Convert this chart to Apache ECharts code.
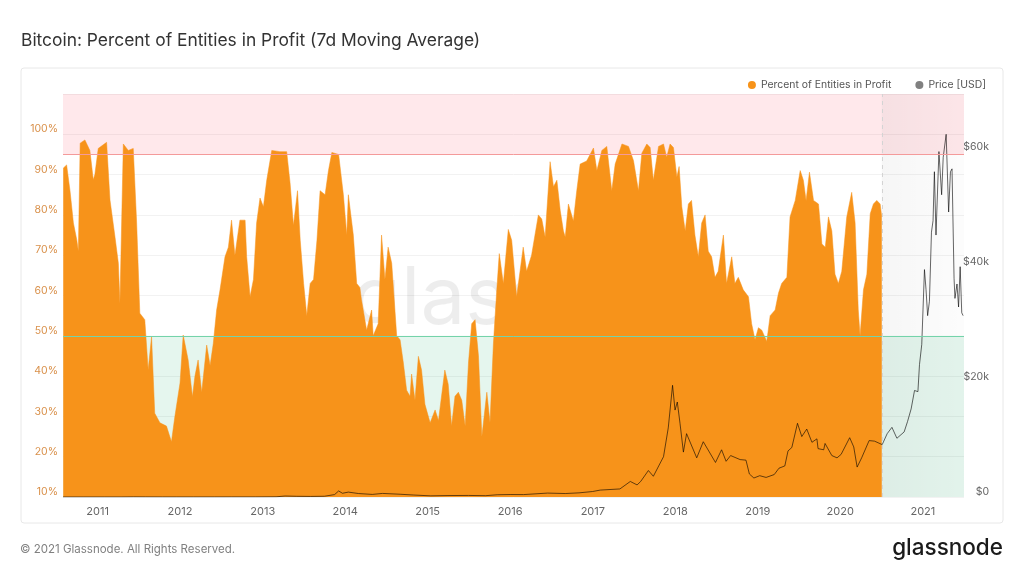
<!DOCTYPE html>
<html><head><meta charset="utf-8">
<script src="https://cdn.jsdelivr.net/npm/echarts@6/dist/echarts.min.js"></script>
<style>html,body{margin:0;padding:0;background:#fff}#c{width:1024px;height:576px}</style>
</head><body><div id="c"></div><script>
const pctDates = ['2010-08-02','2010-08-17','2010-09-01','2010-09-16','2010-10-01','2010-10-08','2010-10-16','2010-11-06','2010-11-28','2010-12-13','2010-12-20',
'2011-01-04','2011-02-10','2011-02-25','2011-03-19','2011-04-03','2011-04-10','2011-04-25','2011-05-17','2011-06-08','2011-06-23','2011-07-07','2011-07-29','2011-08-13','2011-08-28','2011-09-11','2011-10-04','2011-11-02','2011-11-24','2011-12-09',
'2012-01-01','2012-01-15','2012-02-06','2012-02-25','2012-03-07','2012-03-21','2012-04-06','2012-04-28','2012-05-13','2012-05-27','2012-06-11','2012-06-26','2012-07-18','2012-08-02','2012-08-16','2012-08-31','2012-09-22','2012-10-15','2012-10-22','2012-11-06','2012-11-21','2012-12-05','2012-12-20',
'2013-01-04','2013-01-19','2013-02-10','2013-03-18','2013-04-17','2013-05-02','2013-05-17','2013-06-04','2013-06-16','2013-07-01','2013-07-15','2013-07-30','2013-08-14','2013-08-29','2013-09-12','2013-10-04','2013-10-19','2013-11-03','2013-12-03','2013-12-24',
'2014-01-08','2014-01-15','2014-02-06','2014-02-21','2014-03-07','2014-03-14','2014-04-06','2014-04-28','2014-05-05','2014-05-27','2014-06-11','2014-06-26','2014-07-10','2014-07-26','2014-08-17','2014-09-01','2014-09-15','2014-09-30','2014-10-15','2014-10-22','2014-11-06','2014-11-21','2014-12-05','2014-12-20',
'2015-01-12','2015-02-03','2015-02-18','2015-03-18','2015-04-02','2015-04-17','2015-05-02','2015-05-17','2015-06-01','2015-06-16','2015-07-01','2015-07-15','2015-07-30','2015-08-14','2015-08-29','2015-09-20','2015-10-04','2015-10-19','2015-11-03','2015-11-14','2015-12-02','2015-12-24',
'2016-01-08','2016-01-30','2016-02-28','2016-03-14','2016-04-05','2016-05-05','2016-05-20','2016-06-04','2016-06-26','2016-07-11','2016-07-26','2016-08-10','2016-08-24','2016-09-01','2016-09-15','2016-10-07','2016-10-22','2016-11-06','2016-12-05',
'2017-01-04','2017-01-19','2017-02-10','2017-03-04','2017-03-26','2017-04-10','2017-05-10','2017-06-08','2017-06-30','2017-07-22','2017-08-06','2017-08-28','2017-09-12','2017-09-26','2017-10-19','2017-11-10','2017-11-24','2017-12-09','2017-12-24',
'2018-01-08','2018-01-18','2018-01-30','2018-02-14','2018-02-28','2018-03-14','2018-03-29','2018-04-13','2018-04-28','2018-05-13','2018-05-27','2018-06-11','2018-06-26','2018-07-10','2018-08-02','2018-08-16','2018-09-08','2018-09-22','2018-10-07','2018-10-29','2018-11-21','2018-12-05','2018-12-20',
'2019-01-04','2019-01-19','2019-02-10','2019-02-25','2019-03-19','2019-04-03','2019-04-17','2019-05-10','2019-05-24','2019-06-16','2019-07-08','2019-07-22','2019-08-03','2019-08-18','2019-09-05','2019-09-27','2019-10-12','2019-10-27','2019-11-10','2019-11-25','2019-12-09','2019-12-24',
'2020-01-08','2020-01-30','2020-02-21','2020-03-07','2020-03-21','2020-03-29','2020-04-13','2020-04-28','2020-05-13','2020-05-27','2020-06-11','2020-06-26','2020-07-03'];
const pctValues = [91.6,92.4,86,78,73.8,71,97.8,98.6,96,88.7,90,
96.5,98,83.7,74.6,68,58,97.6,96,96.5,78,55.6,54,41.5,49.8,30.8,28.4,27.6,23.7,29.9,
38.3,50.2,44,34.9,40,44,36,47.7,42.6,48,56.4,61.4,69.6,72,78.7,70,78.7,78.7,69.6,59.7,64,78,84.2,
82,88.7,96,95.7,95.7,88,77.4,86,73.7,63,55,63,64,73.7,86,85,91,95.5,95,85,
75,85,75,63,62,59,51.4,56.4,50,53,75,64,72,68,50,49,43.5,36.5,35,40.5,34,44.9,41.5,33,
28.4,31.6,29,41.5,38,27.6,35,36,34,27.6,43.5,53,54,45,25,36,28.4,48,61.4,70.4,63,76.4,
73.7,59.7,72,66,70,80,79,74.5,93.2,87,88.6,81,76,74.5,82.7,78.5,86,92.6,93.4,
96.6,91,96,97,86,92.6,97.6,97,93.5,86,95.3,97.6,96.7,88.6,97,97.6,94.3,97.6,96.7,
89.4,92,82,76,82.7,83.6,75,69.6,78,80,71,69.6,64.5,66,75,63,69.6,63,64.5,61.4,59.7,53,49,
52,51.4,48.6,55,56.4,60.6,63,64.5,79.5,83.6,91,88.6,83.6,90.6,83.6,82.7,72.8,72,79.5,76,65.3,63,
66,79.5,85.6,78,56.4,50,61.4,65.3,80.3,82.7,83.6,82.7,79.5];

const priceDates = ['2010-08-01','2010-11-01','2011-02-01','2011-04-15','2011-06-10','2011-08-01','2011-10-15','2011-12-15','2012-03-01','2012-06-01','2012-08-15','2012-12-01',
'2013-03-01','2013-04-10','2013-06-01','2013-08-01','2013-10-01','2013-11-15','2013-12-03','2013-12-20','2014-01-15','2014-03-01','2014-05-01','2014-06-15','2014-09-01','2014-11-01',
'2015-01-15','2015-04-01','2015-07-01','2015-09-15','2015-11-05','2016-01-01','2016-03-01','2016-06-15','2016-09-01','2016-11-01','2016-12-31',
'2017-02-03','2017-05-01','2017-06-16','2017-07-16','2017-08-01','2017-09-04','2017-09-26','2017-11-10','2017-12-01','2017-12-20','2017-12-31',
'2018-01-10','2018-01-22','2018-02-06','2018-02-20','2018-04-06','2018-05-05','2018-06-28','2018-07-25','2018-08-14','2018-09-03','2018-10-15','2018-11-10','2018-11-25','2018-12-15',
'2019-01-10','2019-02-07','2019-03-15','2019-04-05','2019-05-01','2019-05-15','2019-06-01','2019-06-26','2019-07-15','2019-08-06','2019-08-29','2019-09-20','2019-09-25','2019-10-20','2019-10-26','2019-11-25','2019-12-18',
'2020-01-05','2020-02-12','2020-03-01','2020-03-16','2020-04-05','2020-05-08','2020-06-01','2020-07-05','2020-07-27','2020-08-17','2020-09-08','2020-10-10','2020-10-25','2020-11-10','2020-11-25','2020-12-10','2020-12-17','2020-12-27',
'2021-01-08','2021-01-15','2021-01-22','2021-01-30','2021-02-08','2021-02-15','2021-02-21','2021-02-28','2021-03-13','2021-03-25','2021-04-01','2021-04-14','2021-04-25','2021-05-03','2021-05-10','2021-05-19','2021-05-23','2021-06-01','2021-06-08','2021-06-15','2021-06-22','2021-06-28'];
const priceValues = [0.07,0.3,0.9,1.2,20,12,3,3.2,5,5.5,11,12.5,
34,170,120,100,130,420,1050,650,850,600,450,620,480,340,
200,250,270,230,390,430,420,680,600,720,950,
1200,1400,2700,2100,2700,4600,3600,7000,12000,19400,15100,
16500,12800,7800,11000,6800,9600,6000,8200,6200,7200,6500,6400,4000,3300,
3700,3400,3900,5000,5400,8000,8600,12800,10500,11800,9500,10100,8400,8200,9300,7200,6800,
7400,10300,8700,5200,6800,9800,9700,9100,11000,12100,10200,11300,13100,15300,18500,18300,23000,26500,
39500,36000,31500,34000,46000,48000,56500,45500,60000,52500,59000,63000,49500,56500,57000,38000,34500,37000,33000,40000,32000,31500];

const yearLabels = [2011,2012,2013,2014,2015,2016,2017,2018,2019,2020,2021];
const xMinDate = '2010-08-01', xMaxDate = '2021-07-02', pctEndDate = '2020-07-03';

const ts = d => Date.parse(d + 'T00:00:00Z');
const pctData = pctDates.map((d,i)=>[ts(d),pctValues[i]]);
const priceData = priceDates.map((d,i)=>[ts(d),priceValues[i]]);
const yearTicks = yearLabels.map(y=>ts(y+'-01-01'));
const xMin = ts(xMinDate), xMax = ts(xMaxDate), pctEnd = ts(pctEndDate);
const FONT = 'Inter';

const chart = echarts.init(document.getElementById('c'));
chart.setOption({
  animation:false,
  backgroundColor:'#fff',
  textStyle:{fontFamily:FONT},
  title:{text:'Bitcoin: Percent of Entities in Profit (7d Moving Average)',left:16,top:27,
    textStyle:{fontSize:17.4,fontWeight:'normal',color:'#333',fontFamily:FONT}},
  legend:{top:75,right:33,itemWidth:8,itemHeight:8,itemGap:24,icon:'circle',
    textStyle:{fontSize:10.4,color:'#555',fontFamily:FONT},
    data:[{name:'Percent of Entities in Profit',itemStyle:{color:'#f7931a'}},{name:'Price [USD]',itemStyle:{color:'#808080'}}]},
  graphic:[
    {type:'rect',shape:{x:21,y:68,width:982,height:455,r:3},style:{fill:'none',stroke:'#e8e8e8',lineWidth:1},z:0,silent:true},
    {type:'text',x:352,y:300,z:1,silent:true,style:{text:'glassnode',fontSize:80,fontFamily:FONT,fill:'rgba(0,0,0,0.07)',textAlign:'left',textVerticalAlign:'middle'}},
    {type:'text',x:20,y:550,silent:true,style:{text:'© 2021 Glassnode. All Rights Reserved.',fontSize:11.5,fontFamily:FONT,fill:'#808080',textAlign:'left',textVerticalAlign:'middle'}},
    {type:'text',x:1003,y:548,silent:true,style:{text:'glassnode',fontSize:22.5,fontWeight:500,fontFamily:FONT,fill:'#1a1a1a',textAlign:'right',textVerticalAlign:'middle'}}
  ],
  grid:{left:63,right:60,top:94,bottom:79,containLabel:false},
  xAxis:{type:'value',min:xMin,max:xMax,
    axisLine:{show:false},axisTick:{show:false},splitLine:{show:false},
    axisLabel:{customValues:yearTicks,formatter:v=>String(new Date(v).getUTCFullYear()),color:'#666',fontSize:11,margin:9,fontFamily:FONT}},
  yAxis:[
    {type:'value',min:10,max:110,interval:10,position:'left',
      axisLine:{show:false},axisTick:{show:false},
      splitLine:{lineStyle:{color:'#f2f2f2',width:1}},
      axisLabel:{formatter:'{value}%',showMaxLabel:false,color:'#d9904a',fontSize:10.5,margin:5,verticalAlign:'bottom',lineHeight:10,fontFamily:FONT}},
    {type:'value',min:0,max:70000,interval:20000,position:'right',
      axisLine:{show:false},axisTick:{show:false},splitLine:{show:false},
      axisLabel:{formatter:v=>v===0?'$0':'$'+(v/1000)+'k',showMaxLabel:false,color:'#666',fontSize:10.5,margin:25,align:'right',verticalAlign:'bottom',lineHeight:10,fontFamily:FONT}}
  ],
  series:[
    {name:'bands',type:'line',data:pctData,yAxisIndex:0,z:1,silent:true,symbol:'none',lineStyle:{opacity:0},
      markArea:{silent:true,data:[
        [{yAxis:95,itemStyle:{color:'rgba(255,0,30,0.09)'}},{yAxis:110}],
        [{yAxis:10,itemStyle:{color:'rgba(0,170,90,0.1)'}},{yAxis:50}],
        [{xAxis:pctEnd,itemStyle:{color:{type:'linear',x:0,y:0,x2:1,y2:0,colorStops:[{offset:0,color:'rgba(0,0,0,0.035)'},{offset:1,color:'rgba(0,0,0,0.01)'}]}}},{xAxis:xMax}]
      ]},
      markLine:{silent:true,symbol:'none',label:{show:false},data:[
        {yAxis:95,lineStyle:{color:'#f49a9a',type:'solid',width:1}},
        {yAxis:50,lineStyle:{color:'#74d3aa',type:'solid',width:1}},
        {xAxis:pctEnd,lineStyle:{color:'#d4d4d4',type:[4,4],width:1}}
      ]}},
    {name:'Percent of Entities in Profit',type:'line',data:pctData,yAxisIndex:0,z:2,symbol:'none',
      lineStyle:{color:'#f7931a',width:0.5},itemStyle:{color:'#f7931a'},
      areaStyle:{color:'#f7931a',opacity:1,origin:'start'}},
    {name:'Price [USD]',type:'line',data:priceData,yAxisIndex:1,z:3,symbol:'none',
      lineStyle:{color:'rgba(0,0,0,0.6)',width:1},itemStyle:{color:'#808080'}}
  ]
});
</script></body></html>
